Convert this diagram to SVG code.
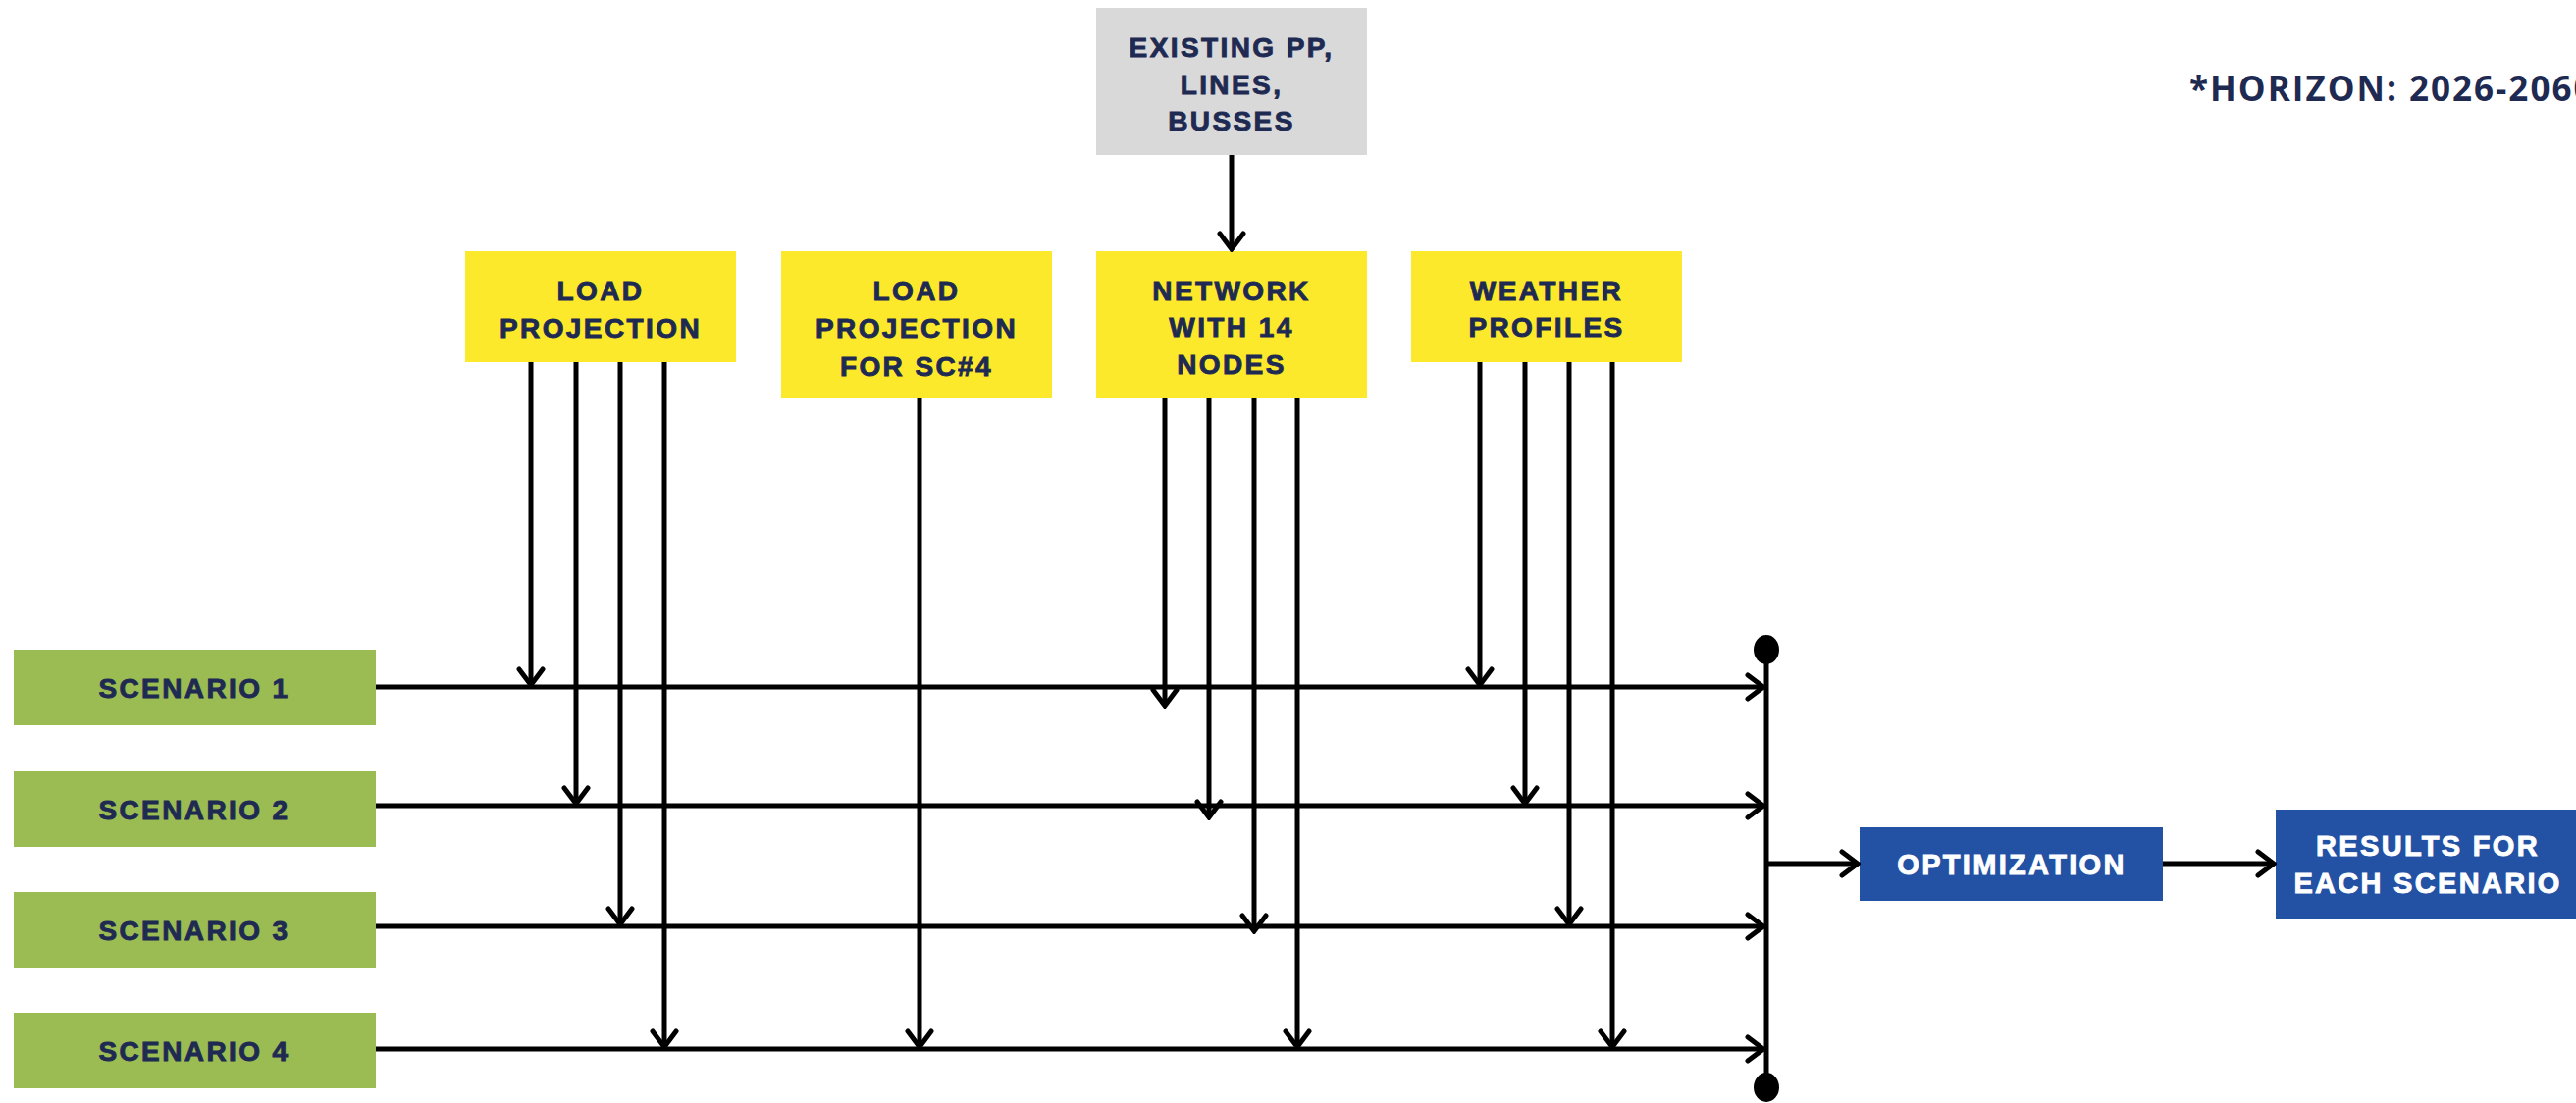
<svg xmlns="http://www.w3.org/2000/svg" width="2625" height="1124" viewBox="0 0 2625 1124">
<style>
.lbl{font-family:"Liberation Sans",Arial,sans-serif;font-weight:bold;font-size:28px;letter-spacing:2.4px;fill:#1E2A52;stroke:#1E2A52;stroke-width:0.9px;text-anchor:middle}
.wlbl{font-family:"Liberation Sans",Arial,sans-serif;font-weight:bold;font-size:29px;letter-spacing:2.3px;fill:#FFFFFF;stroke:#FFFFFF;stroke-width:0.9px;text-anchor:middle}
.yel{fill:#FDE92B}
.gry{fill:#D9D9D9}
.grn{fill:#9BBB53}
.blu{fill:#2351A4}
.ln{stroke:#000;stroke-width:5;fill:none}
.ar{stroke:#000;stroke-width:5;fill:none;marker-end:url(#arr)}
.note{font-family:"Open Sans","Liberation Sans",sans-serif;font-weight:bold;font-size:35px;letter-spacing:2px;fill:#1E2A52}
</style>
<defs>
<marker id="arr" markerUnits="userSpaceOnUse" viewBox="0 0 22 30" refX="19" refY="15" markerWidth="22" markerHeight="30" orient="auto">
<path d="M3,3 L19,15 L3,27" stroke="#000" stroke-width="5" fill="none" stroke-linecap="round" stroke-linejoin="miter"/>
</marker>
</defs>
<rect width="2625" height="1124" fill="#FFFFFF"/>

<g id="existing">
<rect class="gry" x="1117" y="8" width="276" height="150"/>
<text class="lbl" x="1255" y="58">EXISTING PP,</text>
<text class="lbl" x="1255" y="96">LINES,</text>
<text class="lbl" x="1255" y="133">BUSSES</text>
</g>
<g id="load">
<rect class="yel" x="474" y="256" width="276" height="113"/>
<text class="lbl" x="612" y="306">LOAD</text>
<text class="lbl" x="612" y="344">PROJECTION</text>
</g>
<g id="load4">
<rect class="yel" x="796" y="256" width="276" height="150"/>
<text class="lbl" x="934" y="306">LOAD</text>
<text class="lbl" x="934" y="344">PROJECTION</text>
<text class="lbl" x="934" y="383">FOR SC#4</text>
</g>
<g id="network">
<rect class="yel" x="1117" y="256" width="276" height="150"/>
<text class="lbl" x="1255" y="306">NETWORK</text>
<text class="lbl" x="1255" y="343">WITH 14</text>
<text class="lbl" x="1255" y="381">NODES</text>
</g>
<g id="weather">
<rect class="yel" x="1438" y="256" width="276" height="113"/>
<text class="lbl" x="1576" y="306">WEATHER</text>
<text class="lbl" x="1576" y="343">PROFILES</text>
</g>
<g id="sc1">
<rect class="grn" x="14" y="662" width="369" height="77"/>
<text class="lbl" x="198" y="711">SCENARIO 1</text>
</g>
<g id="sc2">
<rect class="grn" x="14" y="786" width="369" height="77"/>
<text class="lbl" x="198" y="835">SCENARIO 2</text>
</g>
<g id="sc3">
<rect class="grn" x="14" y="909" width="369" height="77"/>
<text class="lbl" x="198" y="958">SCENARIO 3</text>
</g>
<g id="sc4">
<rect class="grn" x="14" y="1032" width="369" height="77"/>
<text class="lbl" x="198" y="1081">SCENARIO 4</text>
</g>
<g id="optimization">
<rect class="blu" x="1895" y="843" width="309" height="75"/>
<text class="wlbl" x="2050" y="891">OPTIMIZATION</text>
</g>
<g id="results">
<rect class="blu" x="2319" y="825" width="310" height="111"/>
<text class="wlbl" x="2474" y="872">RESULTS FOR</text>
<text class="wlbl" x="2474" y="910">EACH SCENARIO</text>
</g>
<g id="horizon">
<text class="note" x="2231" y="103">*HORIZON: 2026-2060</text>
</g>

<g id="connectors">
<path class="ar" d="M1255,158 V254"/>
<path class="ar" d="M383,700 H1797"/>
<path class="ar" d="M383,821 H1797"/>
<path class="ar" d="M383,944 H1797"/>
<path class="ar" d="M383,1069 H1797"/>
<path class="ar" d="M541,369 V698"/>
<path class="ar" d="M587,369 V819"/>
<path class="ar" d="M632,369 V942"/>
<path class="ar" d="M677,369 V1067"/>
<path class="ar" d="M937,406 V1067"/>
<path class="ar" d="M1187,406 V719"/>
<path class="ar" d="M1232,406 V833"/>
<path class="ar" d="M1278,406 V949"/>
<path class="ar" d="M1322,406 V1067"/>
<path class="ar" d="M1508,369 V698"/>
<path class="ar" d="M1554,369 V819"/>
<path class="ar" d="M1599,369 V942"/>
<path class="ar" d="M1643,369 V1067"/>
<path class="ln" d="M1800,662 V1108"/>
<ellipse cx="1800" cy="662" rx="13" ry="15" fill="#000"/>
<ellipse cx="1800" cy="1108" rx="13" ry="15" fill="#000"/>
<path class="ar" d="M1798,880 H1893"/>
<path class="ar" d="M2204,880 H2317"/>
</g>
</svg>
